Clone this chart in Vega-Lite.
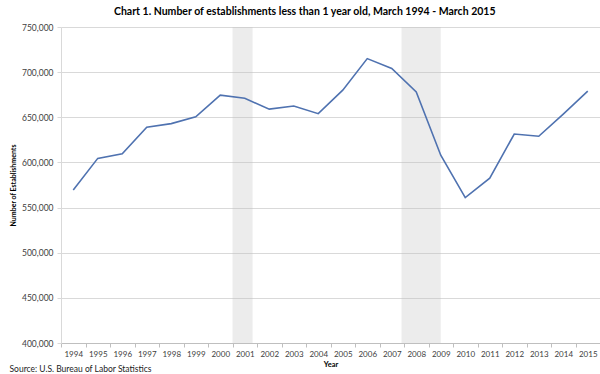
{
  "$schema": "https://vega.github.io/schema/vega-lite/v6.json",
  "padding": {"left": 9, "top": 6, "right": 0, "bottom": 0},
  "background": "white",
  "title": {
    "text": "Chart 1. Number of establishments less than 1 year old, March 1994 - March 2015",
    "font": "Lato", "fontSize": 10.5, "fontWeight": "bold", "color": "#000000",
    "anchor": "middle", "frame": "bounds", "offset": 6
  },
  "config": {"view": {"stroke": null}, "font": "Lato", "concat": {"spacing": 0}},
  "datasets": {
    "est": [
      {"Year": 1994, "Establishments": 569500},
      {"Year": 1995, "Establishments": 604500},
      {"Year": 1996, "Establishments": 609500},
      {"Year": 1997, "Establishments": 639000},
      {"Year": 1998, "Establishments": 643000},
      {"Year": 1999, "Establishments": 650500},
      {"Year": 2000, "Establishments": 674500},
      {"Year": 2001, "Establishments": 671000},
      {"Year": 2002, "Establishments": 659000},
      {"Year": 2003, "Establishments": 662500},
      {"Year": 2004, "Establishments": 654000},
      {"Year": 2005, "Establishments": 680000},
      {"Year": 2006, "Establishments": 715000},
      {"Year": 2007, "Establishments": 704000},
      {"Year": 2008, "Establishments": 678000},
      {"Year": 2009, "Establishments": 608000},
      {"Year": 2010, "Establishments": 561000},
      {"Year": 2011, "Establishments": 582500},
      {"Year": 2012, "Establishments": 631500},
      {"Year": 2013, "Establishments": 629000},
      {"Year": 2014, "Establishments": 653500},
      {"Year": 2015, "Establishments": 679000}
    ],
    "rec": [
      {"start": 2000.5, "end": 2001.32},
      {"start": 2007.4, "end": 2009.0}
    ]
  },
  "vconcat": [
    {
      "width": 539,
      "height": 316,
      "title": {
        "text": "Source: U.S. Bureau of Labor Statistics",
        "orient": "bottom", "anchor": "start", "frame": "bounds",
        "fontSize": 8.5, "fontWeight": "normal", "color": "#222222", "offset": -3
      },
      "layer": [
        {
          "data": {"name": "rec"},
          "mark": {"type": "rect", "color": "#c0c0c0", "opacity": 0.3},
          "encoding": {
            "x": {
              "field": "start", "type": "quantitative",
              "scale": {"domain": [1993.5, 2015.5], "nice": false, "zero": false},
              "axis": {
                "title": "Year", "titleFontSize": 7.5, "titleFontWeight": "bold", "titleColor": "#000000", "titlePadding": 2,
                "values": [1994,1995,1996,1997,1998,1999,2000,2001,2002,2003,2004,2005,2006,2007,2008,2009,2010,2011,2012,2013,2014,2015,2016],
                "labelExpr": "datum.value > 2015 ? '' : '' + datum.value",
                "tickOffset": -12.25, "labelOffset": 12.25,
                "labelFlush": false, "labelOverlap": false, "labelBound": false, "labelSeparation": 0,
                "labelFontSize": 8, "labelColor": "#404040", "labelPadding": 3,
                "tickSize": 4, "tickColor": "#bfbfbf", "domainColor": "#bfbfbf",
                "grid": false
              }
            },
            "x2": {"field": "end"}
          }
        },
        {
          "data": {"name": "est"},
          "mark": {"type": "line", "color": "#4f72b0", "strokeWidth": 1.6},
          "encoding": {
            "x": {
              "field": "Year", "type": "quantitative",
              "scale": {"domain": [1993.5, 2015.5], "nice": false, "zero": false},
              "axis": {
                "title": "Year", "titleFontSize": 7.5, "titleFontWeight": "bold", "titleColor": "#000000", "titlePadding": 2,
                "values": [1994,1995,1996,1997,1998,1999,2000,2001,2002,2003,2004,2005,2006,2007,2008,2009,2010,2011,2012,2013,2014,2015,2016],
                "labelExpr": "datum.value > 2015 ? '' : '' + datum.value",
                "tickOffset": -12.25, "labelOffset": 12.25,
                "labelFlush": false, "labelOverlap": false, "labelBound": false, "labelSeparation": 0,
                "labelFontSize": 8, "labelColor": "#404040", "labelPadding": 3,
                "tickSize": 4, "tickColor": "#bfbfbf", "domainColor": "#bfbfbf",
                "grid": false
              }
            },
            "y": {
              "field": "Establishments", "type": "quantitative",
              "scale": {"domain": [400000, 750000], "nice": false, "zero": false},
              "axis": {
                "title": "Number of Establishments", "titleFontSize": 7, "titleFontWeight": "bold", "titleColor": "#000000", "titlePadding": 5,
                "values": [400000,450000,500000,550000,600000,650000,700000,750000],
                "labelExpr": "format(datum.value, ',')",
                "labelFontSize": 8.5, "labelColor": "#404040", "labelPadding": 4,
                "tickSize": 4, "tickColor": "#d9d9d9", "domainColor": "#d9d9d9",
                "grid": true, "gridColor": "#d9d9d9"
              }
            }
          }
        }
      ]
    }
  ]
}
